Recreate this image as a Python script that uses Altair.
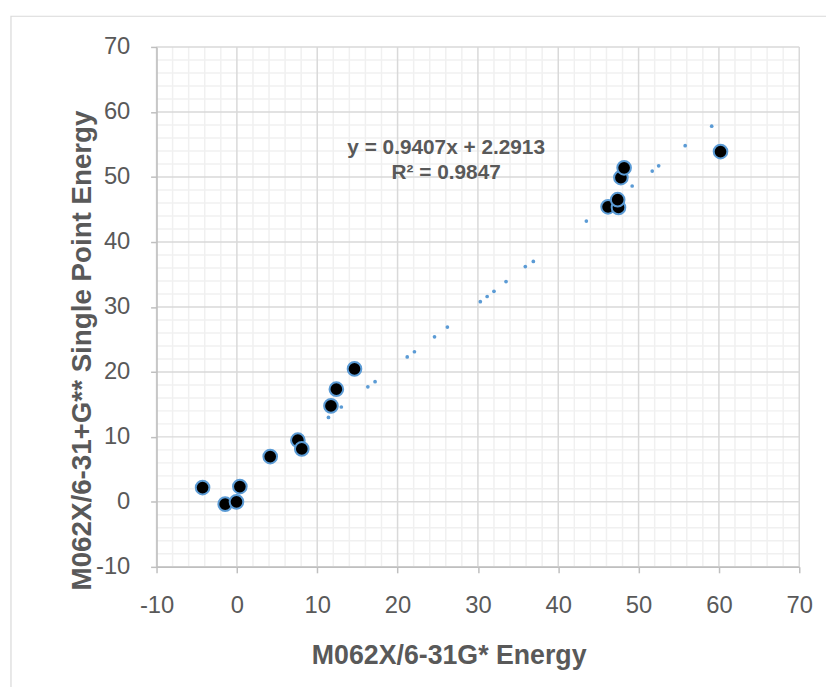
import altair as alt
import pandas as pd

# Data
pt_x = [-4.27, -1.46, -0.05, 0.37, 4.15, 7.59, 8.08, 11.71, 12.38, 14.64,
        46.2, 47.5, 47.4, 47.8, 48.2, 60.2]
pt_y = [2.2, -0.35, 0.0, 2.35, 6.97, 9.49, 8.15, 14.77, 17.34, 20.46,
        45.4, 45.3, 46.5, 49.9, 51.4, 53.9]

# Dotted trendline dots as they appear in the picture
trend_x = [11.4, 13.0, 16.3, 17.2, 21.2, 22.1, 24.6, 26.2, 30.3, 31.15, 32.0,
           33.5, 35.9, 36.9, 43.5, 49.2, 51.7, 52.5, 55.8, 59.1]
trend_y = [13.0, 14.6, 17.7, 18.5, 22.3, 23.1, 25.4, 26.9, 30.8, 31.6, 32.4,
           33.9, 36.2, 37.0, 43.2, 48.6, 50.9, 51.7, 54.8, 57.8]

major_ticks = [-10, 0, 10, 20, 30, 40, 50, 60, 70]
minor_ticks = [-8, -6, -4, -2, 2, 4, 6, 8, 12, 14, 16, 18, 22, 24, 26, 28,
               32, 34, 36, 38, 42, 44, 46, 48, 52, 54, 56, 58, 62, 64, 66, 68]

eq_text = ["y = 0.9407x + 2.2913", "R\u00b2 = 0.9847"]
eq_x = [26.05, 26.05]
eq_y = [54.5, 50.65]

x_title = "M062X/6-31G* Energy"
y_title = "M062X/6-31+G** Single Point Energy"

FONT = "Liberation Sans"
GREY = "#595959"
W, H = 649, 525

pts = pd.DataFrame({"x": pt_x, "y": pt_y})
trend = pd.DataFrame({"x": trend_x, "y": trend_y})
minor = pd.DataFrame({"v": minor_ticks})
major = pd.DataFrame({"v": major_ticks})
eq = pd.DataFrame({"x": eq_x, "y": eq_y, "t": eq_text})

xscale = alt.Scale(domain=[-10, 70], nice=False, zero=False)
yscale = alt.Scale(domain=[-10, 70], nice=False, zero=False)

LBL = "'' + datum.value"

xaxis = alt.Axis(values=major_ticks, grid=False, title=x_title, labelExpr=LBL,
                 domainColor="#bfbfbf", tickColor="#bfbfbf", tickSize=6,
                 domainWidth=1.5, tickWidth=1.5,
                 labelFont=FONT, labelFontSize=24, labelColor=GREY,
                 labelPadding=21, labelFlush=False,
                 titleFont=FONT, titleFontSize=27, titleFontWeight="bold",
                 titleColor=GREY, titleX=295, titleY=90, titleAlign="center",
                 titleBaseline="middle", zindex=1)
yaxis = alt.Axis(values=major_ticks, grid=False, title=y_title, labelExpr=LBL,
                 domainColor="#bfbfbf", tickColor="#bfbfbf", tickSize=6,
                 domainWidth=1.5, tickWidth=1.5,
                 labelFont=FONT, labelFontSize=24, labelColor=GREY,
                 labelPadding=21, labelFlush=False,
                 titleFont=FONT, titleFontSize=28, titleFontWeight="bold",
                 titleColor=GREY, titleX=-75, titleY=306, titleAngle=270,
                 titleAlign="center", titleBaseline="middle", zindex=1)

border = alt.Chart(pd.DataFrame({"a": [0]})).mark_rect(
    fill="transparent", stroke="#d9d9d9", strokeWidth=1.2
).encode(x=alt.value(-147), x2=alt.value(700), y=alt.value(-31), y2=alt.value(700))

minor_v = alt.Chart(minor).mark_rule(color="#f0f0f0", strokeWidth=1.5).encode(
    x=alt.X("v:Q", scale=xscale, axis=xaxis))
minor_h = alt.Chart(minor).mark_rule(color="#f0f0f0", strokeWidth=1.5).encode(
    y=alt.Y("v:Q", scale=yscale, axis=yaxis))
major_v = alt.Chart(major).mark_rule(color="#d9d9d9", strokeWidth=1.5).encode(
    x=alt.X("v:Q", scale=xscale, axis=xaxis))
major_h = alt.Chart(major).mark_rule(color="#d9d9d9", strokeWidth=1.5).encode(
    y=alt.Y("v:Q", scale=yscale, axis=yaxis))

points = alt.Chart(pts).mark_point(
    filled=True, fill="black", stroke="#5B9BD5", strokeWidth=2, size=190, opacity=1
).encode(
    x=alt.X("x:Q", scale=xscale, axis=xaxis),
    y=alt.Y("y:Q", scale=yscale, axis=yaxis),
)

dots = alt.Chart(trend).mark_circle(color="#5B9BD5", size=14, opacity=1).encode(
    x=alt.X("x:Q", scale=xscale, axis=xaxis),
    y=alt.Y("y:Q", scale=yscale, axis=yaxis),
)

eqtext = alt.Chart(eq).mark_text(
    font=FONT, fontSize=21, fontWeight="bold", color=GREY, baseline="middle", align="center"
).encode(
    x=alt.X("x:Q", scale=xscale, axis=xaxis),
    y=alt.Y("y:Q", scale=yscale, axis=yaxis),
    text="t:N",
)

chart = alt.layer(border, minor_v, minor_h, major_v, major_h, points, dots, eqtext).properties(
    width=W, height=H,
    autosize=alt.AutoSizeParams(type="none"),
    padding={"left": 150, "top": 36, "right": 27, "bottom": 118},
).configure_view(stroke=None)

chart.save("out.html", embed_options={"renderer": "svg", "actions": False})
